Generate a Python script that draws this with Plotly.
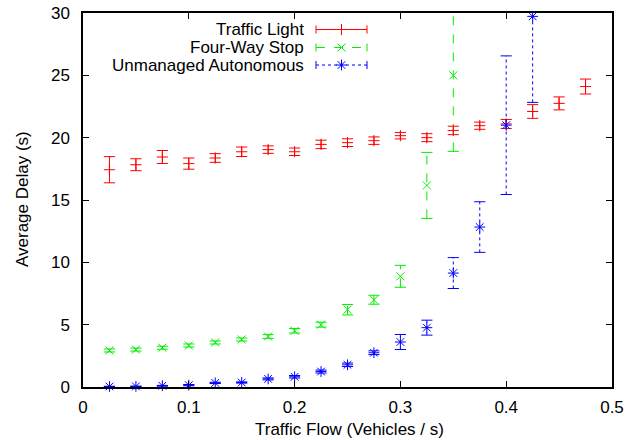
import plotly.graph_objects as go

# ---- data ----
tl_x = [0.025, 0.05, 0.075, 0.1, 0.125, 0.15, 0.175, 0.2, 0.225, 0.25,
        0.275, 0.3, 0.325, 0.35, 0.375, 0.4, 0.425, 0.45, 0.475]
tl_y = [17.43, 17.83, 18.45, 17.92, 18.37, 18.87, 19.04, 18.87, 19.46, 19.6,
        19.76, 20.16, 20.0, 20.58, 20.96, 21.1, 22.1, 22.75, 24.1]
tl_err = [1.05, 0.48, 0.52, 0.45, 0.35, 0.38, 0.3, 0.3, 0.34, 0.31,
          0.3, 0.26, 0.32, 0.34, 0.29, 0.36, 0.55, 0.52, 0.6]

fw_x = [0.025, 0.05, 0.075, 0.1, 0.125, 0.15, 0.175, 0.2, 0.225, 0.25,
        0.275, 0.3, 0.325, 0.35]
fw_y = [2.93, 3.0, 3.15, 3.33, 3.57, 3.81, 4.05, 4.51, 5.0, 6.2,
        7.0, 8.88, 16.17, 25.0]
fw_err = [0.12, 0.12, 0.12, 0.12, 0.12, 0.12, 0.15, 0.18, 0.2, 0.42,
          0.36, 0.88, 2.65, 6.1]

ua_x = [0.025, 0.05, 0.075, 0.1, 0.125, 0.15, 0.175, 0.2, 0.225, 0.25,
        0.275, 0.3, 0.325, 0.35, 0.375, 0.4, 0.425]
ua_y = [0.04, 0.05, 0.1, 0.15, 0.33, 0.36, 0.65, 0.82, 1.24, 1.78,
        2.75, 3.61, 4.76, 9.14, 12.83, 21.0, 29.73]
ua_err = [0.02, 0.02, 0.03, 0.05, 0.05, 0.05, 0.08, 0.1, 0.12, 0.14,
          0.15, 0.6, 0.6, 1.24, 2.03, 5.56, 6.9]

series_names = ["Traffic Light", "Four-Way Stop", "Unmanaged Autonomous"]
x_ticks = [0, 0.1, 0.2, 0.3, 0.4, 0.5]
x_tick_text = ["0", "0.1", "0.2", "0.3", "0.4", "0.5"]
y_ticks = [0, 5, 10, 15, 20, 25, 30]
x_title = "Traffic Flow (Vehicles / s)"
y_title = "Average Delay (s)"

RED = "#ff0000"
GREEN = "#00ee00"
BLUE = "#0000ff"
FONT = "Liberation Sans, Arial, sans-serif"
FS = 17

fig = go.Figure()


def add_bars(xs, ys, errs, color, dash, capw=8):
    vx, vy = [], []
    for x, y, e in zip(xs, ys, errs):
        vx += [x, x, None]
        vy += [y - e, y + e, None]
    fig.add_trace(go.Scatter(x=vx, y=vy, mode="lines",
                             line=dict(color=color, width=1, dash=dash),
                             showlegend=False, hoverinfo="skip"))
    cx = list(xs) + list(xs)
    cy = [y - e for y, e in zip(ys, errs)] + [y + e for y, e in zip(ys, errs)]
    fig.add_trace(go.Scatter(x=cx, y=cy, mode="markers",
                             marker=dict(symbol="line-ew", size=capw,
                                         line=dict(color=color, width=1)),
                             showlegend=False, hoverinfo="skip"))


add_bars(tl_x, tl_y, tl_err, RED, "solid")
add_bars(fw_x, fw_y, fw_err, GREEN, "dash")
add_bars(ua_x, ua_y, ua_err, BLUE, "dot")

fig.add_trace(go.Scatter(x=tl_x, y=tl_y, mode="markers", name=series_names[0],
                         marker=dict(symbol="cross-thin", size=8,
                                     line=dict(color=RED, width=1)),
                         cliponaxis=False, showlegend=False))
fig.add_trace(go.Scatter(x=fw_x, y=fw_y, mode="markers", name=series_names[1],
                         marker=dict(symbol="x-thin", size=8,
                                     line=dict(color=GREEN, width=1)),
                         cliponaxis=False, showlegend=False))
fig.add_trace(go.Scatter(x=ua_x, y=ua_y, mode="markers", name=series_names[2],
                         marker=dict(symbol="asterisk", size=9,
                                     line=dict(color=BLUE, width=1)),
                         cliponaxis=False, showlegend=False))

# ---- manual gnuplot-style key (text left of sample) ----
W, H = 639, 440
L, R, T, B = 83, 27, 13, 53
pw, ph = W - L - R, H - T - B


def px(xp):
    return (xp - L) / pw


def py(yp):
    return 1 - (yp - T) / ph


key_rows = [29.5, 47.5, 65]
key_colors = [RED, GREEN, BLUE]
key_dash = ["solid", "dash", "dot"]
key_sym = ["cross-thin", "x-thin", "asterisk"]
for name, yr, c, d, s in zip(series_names, key_rows, key_colors, key_dash, key_sym):
    fig.add_annotation(x=px(306), y=py(yr), xref="paper", yref="paper",
                       text=name, showarrow=False, xanchor="right", yanchor="middle",
                       font=dict(family=FONT, size=FS, color="black"))
    fig.add_shape(type="line", xref="paper", yref="paper",
                  x0=px(316), x1=px(367), y0=py(yr), y1=py(yr),
                  line=dict(color=c, width=1, dash=d))
    for xe in (316, 367):
        fig.add_shape(type="line", xref="paper", yref="paper",
                      x0=px(xe), x1=px(xe), y0=py(yr - 4), y1=py(yr + 4),
                      line=dict(color=c, width=1))
    fig.add_trace(go.Scatter(x=[px(341.5)], y=[py(yr)], xaxis="x2", yaxis="y2",
                             mode="markers", showlegend=False, hoverinfo="skip",
                             marker=dict(symbol=s, size=9 if s == "asterisk" else 8,
                                         line=dict(color=c, width=1))))

# axis titles
fig.add_annotation(x=px(349), y=py(429), xref="paper", yref="paper", text=x_title,
                   showarrow=False, xanchor="center", yanchor="middle",
                   font=dict(family=FONT, size=FS, color="black"))
fig.add_annotation(x=px(22), y=py(199), xref="paper", yref="paper", text=y_title,
                   showarrow=False, xanchor="center", yanchor="middle", textangle=-90,
                   font=dict(family=FONT, size=FS, color="black"))

axis_common = dict(showline=True, linecolor="black", linewidth=1.5, mirror="ticks",
                   ticks="inside", ticklen=6, tickcolor="black", tickwidth=1,
                   showgrid=False, zeroline=False, automargin=False,
                   tickfont=dict(family=FONT, size=FS, color="black"))

fig.update_layout(
    width=W, height=H,
    margin=dict(l=L, r=R, t=T, b=B),
    plot_bgcolor="white", paper_bgcolor="white",
    showlegend=False,
    xaxis=dict(range=[0, 0.5], tickvals=x_ticks, ticktext=x_tick_text,
               ticklabelstandoff=4, **axis_common),
    yaxis=dict(range=[0, 30], tickvals=y_ticks, ticklabelstandoff=8, **axis_common),
    xaxis2=dict(range=[0, 1], overlaying="x", visible=False, fixedrange=True),
    yaxis2=dict(range=[0, 1], overlaying="y", visible=False, fixedrange=True),
)

fig.write_html("out.html", config={"displayModeBar": False},
               post_script="document.body.style.margin='0';document.body.style.padding='0';")
